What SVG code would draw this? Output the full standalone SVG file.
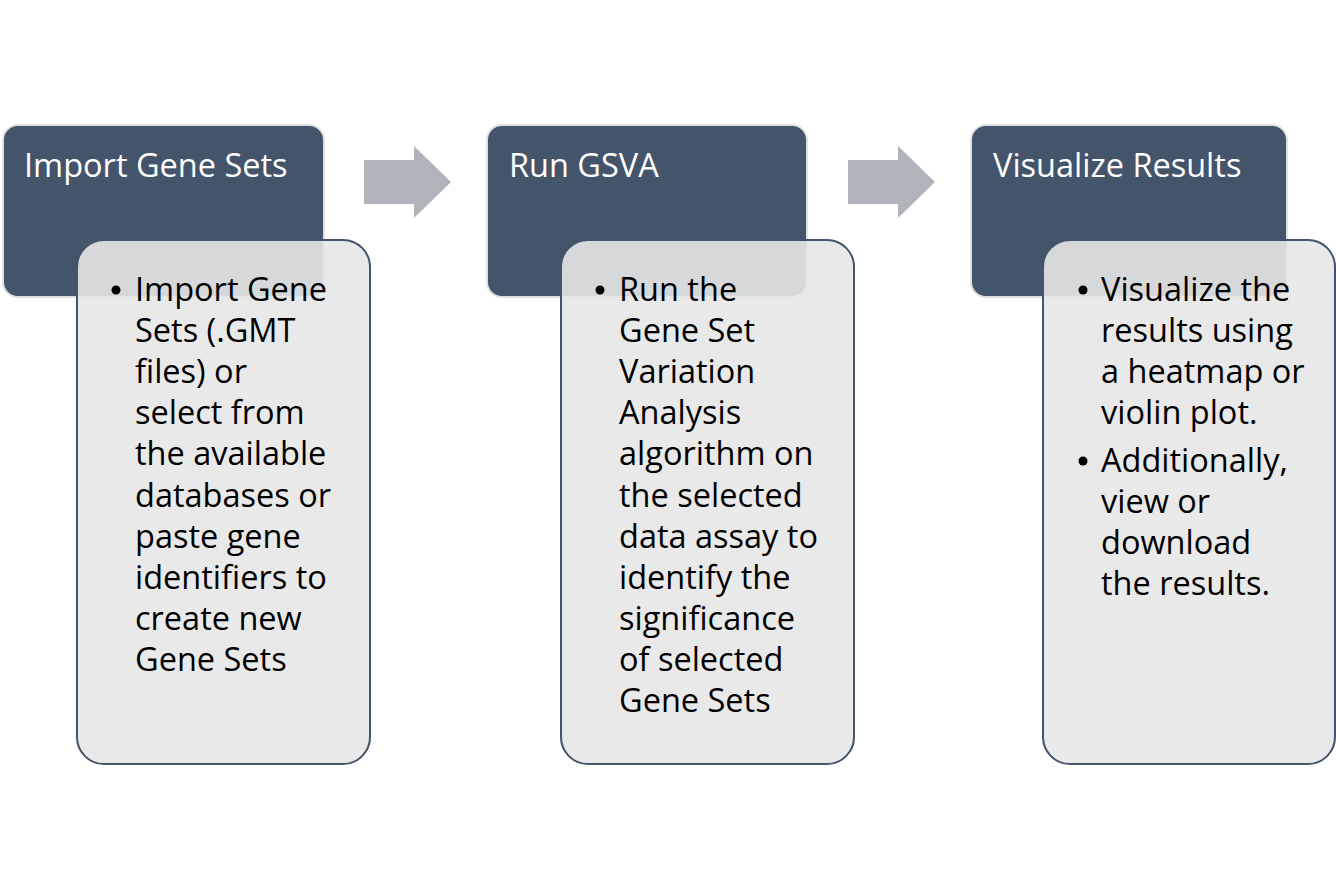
<svg xmlns="http://www.w3.org/2000/svg" width="1336" height="889" viewBox="0 0 1336 889">
<style>
.hdr{fill:#44546A;stroke:#E0E0E0;stroke-width:2}
.card{fill:#E7E7E7;fill-opacity:0.9;stroke:#44546A;stroke-width:2}
.arrow{fill:#B0B3BA}
.ttl{font-family:"Open Sans","Liberation Sans",Arial,sans-serif;font-size:32.5px;fill:#FFFFFF}
.body{font-family:"Open Sans","Liberation Sans",Arial,sans-serif;font-size:32.5px;fill:#000000}
</style>
<rect width="1336" height="889" fill="#FFFFFF"/>
<g id="connectors">
<polygon class="arrow" points="364,160 414,160 414,146 451,182 414,218 414,204 364,204"/>
<polygon class="arrow" points="848,160 898,160 898,146 935,182 898,218 898,204 848,204"/>
</g>
<g id="step1">
<rect class="hdr" x="3" y="125" width="321" height="172" rx="15"/>
<text class="ttl" x="24" y="177">Import Gene Sets</text>
<rect class="card" x="77" y="240" width="293" height="524" rx="27"/>
<g class="body">
<circle cx="116" cy="290" r="4.5" fill="#000"/>
<text x="135" y="301">Import Gene</text>
<text x="135" y="342">Sets (.GMT</text>
<text x="135" y="383">files) or</text>
<text x="135" y="424">select from</text>
<text x="135" y="465">the available</text>
<text x="135" y="507">databases or</text>
<text x="135" y="548">paste gene</text>
<text x="135" y="589">identifiers to</text>
<text x="135" y="630">create new</text>
<text x="135" y="671">Gene Sets</text>
</g>
</g>
<g id="step2">
<rect class="hdr" x="487" y="125" width="320" height="172" rx="15"/>
<text class="ttl" x="509" y="177">Run GSVA</text>
<rect class="card" x="561" y="240" width="293" height="524" rx="27"/>
<g class="body">
<circle cx="600" cy="290" r="4.5" fill="#000"/>
<text x="619" y="301">Run the</text>
<text x="619" y="342">Gene Set</text>
<text x="619" y="383">Variation</text>
<text x="619" y="424">Analysis</text>
<text x="619" y="465">algorithm on</text>
<text x="619" y="507">the selected</text>
<text x="619" y="548">data assay to</text>
<text x="619" y="589">identify the</text>
<text x="619" y="630">significance</text>
<text x="619" y="671">of selected</text>
<text x="619" y="712">Gene Sets</text>
</g>
</g>
<g id="step3">
<rect class="hdr" x="971" y="125" width="316" height="172" rx="15"/>
<text class="ttl" x="993" y="177">Visualize Results</text>
<rect class="card" x="1043" y="240" width="292" height="524" rx="27"/>
<g class="body">
<circle cx="1083" cy="290" r="4.5" fill="#000"/>
<text x="1101" y="301">Visualize the</text>
<text x="1101" y="342">results using</text>
<text x="1101" y="383">a heatmap or</text>
<text x="1101" y="424">violin plot.</text>
<circle cx="1083" cy="461" r="4.5" fill="#000"/>
<text x="1101" y="472">Additionally,</text>
<text x="1101" y="513">view or</text>
<text x="1101" y="554">download</text>
<text x="1101" y="595">the results.</text>
</g>
</g>
</svg>
